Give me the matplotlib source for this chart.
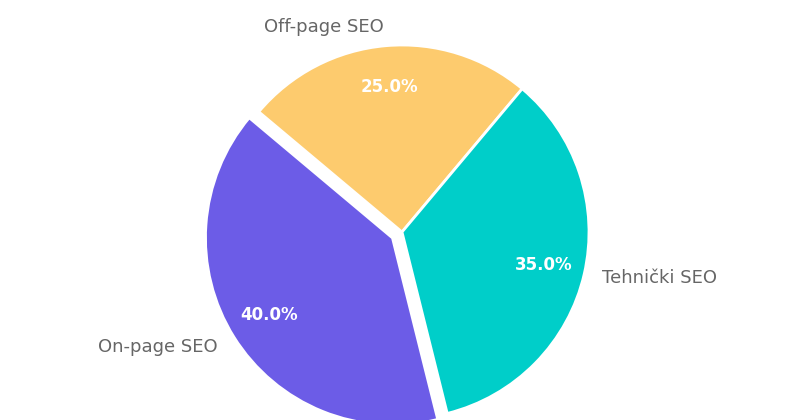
import matplotlib
matplotlib.use("Agg")
import matplotlib.pyplot as plt

labels = ["Off-page SEO", "On-page SEO", "Tehnički SEO"]
shares = [25.0, 40.0, 35.0]
colors = ["#FDCB6E", "#6C5CE7", "#00CEC9"]
explode = [0, 0.06, 0]

fig = plt.figure(figsize=(8, 4.2), dpi=100)
lim = 250 / 187
ax = fig.add_axes([(402 - 250) / 800, (188 - 250) / 420, 500 / 800, 500 / 420])
wedges, texts, autotexts = ax.pie(
    shares, labels=labels, colors=colors, explode=explode,
    startangle=50, counterclock=True, autopct="%1.1f%%",
    pctdistance=0.78, labeldistance=1.1,
    wedgeprops=dict(edgecolor="white", linewidth=2),
    textprops=dict(fontsize=13, color="#666666"),
)
for t in autotexts:
    t.set_color("white")
    t.set_fontweight("bold")
    t.set_fontsize(12)
ax.set_xlim(-lim, lim)
ax.set_ylim(-lim, lim)
ax.set_aspect("equal")
ax.axis("off")
fig.savefig("out.png", dpi=100)
